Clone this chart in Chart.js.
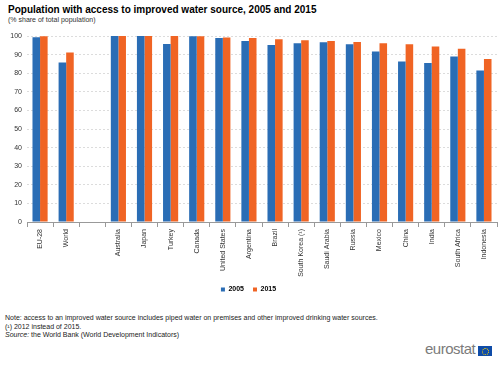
<!DOCTYPE html>
<html>
<head>
<meta charset="utf-8">
<script src="https://cdn.jsdelivr.net/npm/chart.js@4"></script>
<style>
  body { margin: 0; width: 500px; height: 365px; background: #fff; font-family: "Liberation Sans", Arial, sans-serif; position: relative; overflow: hidden; }
  #title { position: absolute; left: 8px; top: 4px; font-size: 10px; font-weight: bold; color: #000; }
  #subtitle { position: absolute; left: 8px; top: 16px; font-size: 7px; color: #333; }
  #wrap { position: absolute; left: 0; top: 26px; width: 500px; height: 277px; }
  #notes { position: absolute; left: 5px; top: 314px; font-size: 7px; color: #222; line-height: 8.5px; }
  #logo { position: absolute; left: 425px; top: 340px; font-size: 15px; letter-spacing: -0.5px; color: #7b7b7b; }
  #flag { position: absolute; left: 478px; top: 346px; width: 14px; height: 10px; background: #0f4ca8; }
  #flag div { position: absolute; left: 3.5px; top: 1.5px; width: 5px; height: 5px; border: 1px dotted #ffd400; border-radius: 50%; }
</style>
</head>
<body>
<div id="title">Population with access to improved water source, 2005 and 2015</div>
<div id="subtitle">(% share of total population)</div>
<div id="wrap"><canvas id="chart"></canvas></div>
<div id="notes">
  Note: access to an improved water source includes piped water on premises and other improved drinking water sources.<br>
  (¹) 2012 instead of 2015.<br>
  <i>Source:</i> the World Bank (World Development Indicators)
</div>
<div id="logo">eurostat</div>
<div id="flag"><div></div></div>
<script>
const countries = ["EU-28", "World", "", "Australia", "Japan", "Turkey", "Canada", "United States", "Argentina", "Brazil",
  "South Korea (¹)", "Saudi Arabia", "Russia", "Mexico", "China", "India", "South Africa", "Indonesia"]
const values2005 = [99.3, 85.8, null, 100, 100, 95.7, 99.8, 98.9, 97.3, 95.2, 96.1, 96.6, 95.6, 91.7, 86.3, 85.5, 89.0, 81.5]
const values2015 = [99.9, 91.1, null, 100, 100, 100, 99.8, 99.2, 98.9, 98.2, 97.7, 97.3, 96.8, 96.1, 95.6, 94.3, 93.1, 87.6]
const yTicks = [0, 10, 20, 30, 40, 50, 60, 70, 80, 90, 100]

const blue = "#2a6db5"
const orange = "#f06424"

new Chart(document.getElementById("chart"), {
  type: "bar",
  data: {
    labels: countries,
    datasets: [
      { label: "2005", data: values2005, backgroundColor: blue, categoryPercentage: 0.58, barPercentage: 1.0 },
      { label: "2015", data: values2015, backgroundColor: orange, categoryPercentage: 0.58, barPercentage: 1.0 }
    ]
  },
  options: {
    responsive: true,
    maintainAspectRatio: false,
    animation: false,
    layout: { padding: { left: 0, right: 3, top: 10, bottom: 0 } },
    scales: {
      x: {
        grid: { drawOnChartArea: false, drawTicks: true, tickLength: 5, offset: true, color: "#999" },
        border: { color: "#999" },
        ticks: { minRotation: 90, maxRotation: 90, autoSkip: false, color: "#333", font: { size: 7, family: "Liberation Sans" }, padding: 2 },
        afterFit: s => { s.height = 55 }
      },
      y: {
        min: 0, max: 100,
        afterBuildTicks: s => { s.ticks = yTicks.map(v => ({ value: v })) },
        grid: { color: "#dcdcdc", drawTicks: false },
        border: { display: false, dash: [2, 2] },
        ticks: { color: "#333", font: { size: 7, family: "Liberation Sans" }, padding: 5 },
        afterFit: s => { s.width = 27 }
      }
    },
    plugins: {
      legend: {
        position: "bottom",
        labels: {
          boxWidth: 4, boxHeight: 4, padding: 9,
          color: "#000",
          font: { size: 7, weight: "bold", family: "Liberation Sans" }
        }
      },
      tooltip: { enabled: false }
    }
  }
})
</script>
</body>
</html>
